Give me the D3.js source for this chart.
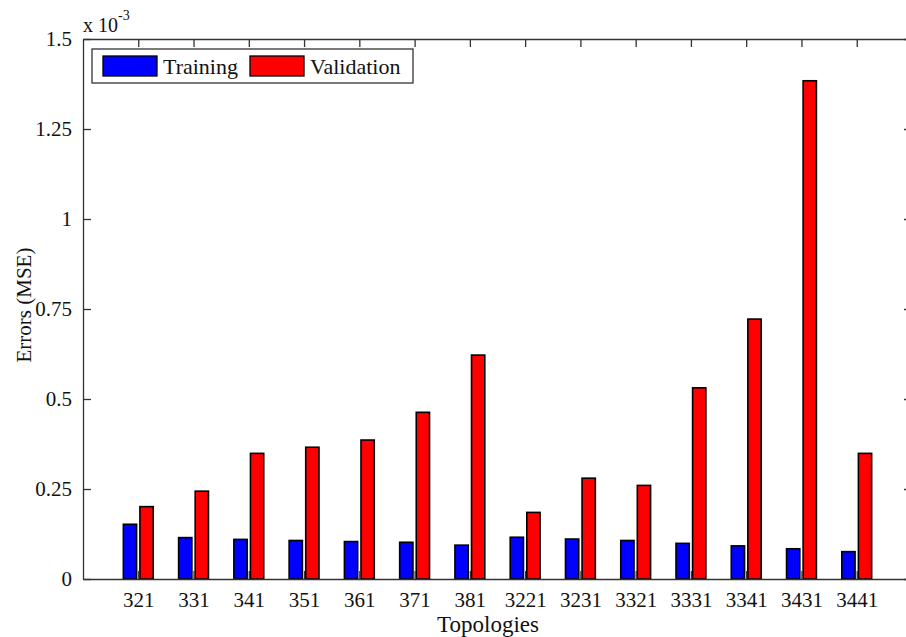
<!DOCTYPE html>
<html>
<head>
<meta charset="utf-8">
<script src="https://cdn.jsdelivr.net/npm/d3@7"></script>
<style>
  body { margin: 0; background: #fff; }
  text { font-family: "Liberation Serif", "Times New Roman", serif; fill: #111; }
</style>
</head>
<body>
<div id="chart"></div>
<script>
// Data (errors in units of 10^-3)
var topologies = ["321", "331", "341", "351", "361", "371", "381",
                  "3221", "3231", "3321", "3331", "3341", "3431", "3441"];
var training   = [0.152, 0.115, 0.110, 0.107, 0.104, 0.102, 0.094,
                  0.116, 0.111, 0.107, 0.099, 0.092, 0.084, 0.076];
var validation = [0.201, 0.244, 0.349, 0.366, 0.386, 0.463, 0.622,
                  0.185, 0.280, 0.260, 0.531, 0.722, 1.384, 0.349];
var seriesNames = ["Training", "Validation"];
var seriesColors = ["#0000ff", "#ff0000"];
var yTicks = [0, 0.25, 0.5, 0.75, 1, 1.25, 1.5];

var w = 906, h = 637;
var plotLeft = 83, plotRight = 912, plotTop = 39, plotBottom = 579;

var svg = d3.select("#chart").append("svg")
    .attr("width", w)
    .attr("height", h);

// Scales
var xScale = d3.scalePoint()
    .domain(topologies)
    .range([plotLeft, plotRight])
    .padding(1);

var step = xScale.step();
var xInner = d3.scaleBand()
    .domain(seriesNames)
    .range([-0.27 * step, 0.27 * step])
    .paddingInner(0.2);

var yScale = d3.scaleLinear()
    .domain([0, 1.5])
    .range([plotBottom, plotTop]);

// Bars
var groups = svg.append("g")
  .selectAll("g")
  .data(topologies)
  .join("g")
    .attr("transform", d => `translate(${xScale(d)},0)`);

groups.selectAll("rect")
  .data((d, i) => [training[i], validation[i]])
  .join("rect")
    .attr("x", (d, j) => xInner(seriesNames[j]))
    .attr("width", xInner.bandwidth())
    .attr("y", d => yScale(d))
    .attr("height", d => yScale(0) - yScale(d))
    .attr("fill", (d, j) => seriesColors[j])
    .attr("stroke", "#000")
    .attr("stroke-width", 1.6);

// Axes (ticks pointing inward, like a boxed plot)
function styleAxis(g) {
  g.selectAll("path, line").attr("stroke", "#333").attr("stroke-width", 1.3);
  g.selectAll("text").attr("font-size", 21).attr("fill", "#111")
   .style("font-family", '"Liberation Serif", "Times New Roman", serif');
}

svg.append("g")
   .attr("transform", `translate(0,${plotBottom})`)
   .call(d3.axisBottom(xScale).tickSizeInner(-8).tickSizeOuter(0).tickPadding(13))
   .call(styleAxis);

svg.append("g")
   .attr("transform", `translate(0,${plotTop})`)
   .call(d3.axisTop(xScale).tickSizeInner(-8).tickSizeOuter(0).tickFormat(""))
   .call(styleAxis);

svg.append("g")
   .attr("transform", `translate(${plotLeft},0)`)
   .call(d3.axisLeft(yScale).tickValues(yTicks).tickSizeInner(-8).tickSizeOuter(0)
           .tickPadding(11).tickFormat(d => String(d)))
   .call(styleAxis);

svg.append("g")
   .attr("transform", `translate(${plotRight},0)`)
   .call(d3.axisRight(yScale).tickValues(yTicks).tickSizeInner(-8).tickSizeOuter(0).tickFormat(""))
   .call(styleAxis);

// Exponent label
var expo = svg.append("text")
   .attr("x", plotLeft)
   .attr("y", 32)
   .attr("font-size", 20);
expo.append("tspan").text("x 10");
expo.append("tspan").attr("dy", -12).attr("font-size", 14).text("-3");

// Axis titles
svg.append("text")
   .attr("x", 488)
   .attr("y", 632)
   .attr("text-anchor", "middle")
   .attr("font-size", 23)
   .text("Topologies");

svg.append("text")
   .attr("transform", "translate(31,305) rotate(-90)")
   .attr("text-anchor", "middle")
   .attr("font-size", 21)
   .text("Errors (MSE)");

// Legend
var legend = svg.append("g");
legend.append("rect")
   .attr("x", 92).attr("y", 49)
   .attr("width", 321).attr("height", 34)
   .attr("fill", "#fff")
   .attr("stroke", "#333")
   .attr("stroke-width", 1.3);

var legendX = [103, 250];
seriesNames.forEach(function(name, j) {
  legend.append("rect")
     .attr("x", legendX[j]).attr("y", 56)
     .attr("width", 54).attr("height", 20)
     .attr("fill", seriesColors[j])
     .attr("stroke", "#000")
     .attr("stroke-width", 1.3);
  legend.append("text")
     .attr("x", legendX[j] + 60)
     .attr("y", 74)
     .attr("font-size", 22)
     .text(name);
});
</script>
</body>
</html>
